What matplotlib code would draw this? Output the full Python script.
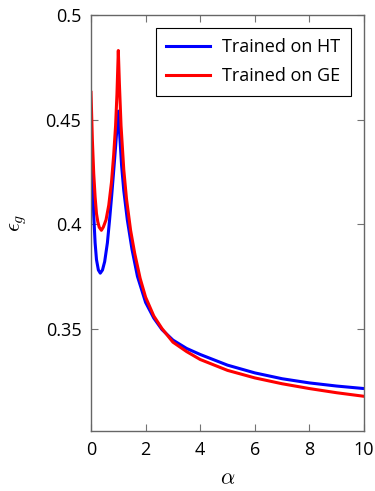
import matplotlib
matplotlib.use('Agg')
import matplotlib.pyplot as plt

# valeurs
alpha_ht = [0, 0.05, 0.1, 0.15, 0.2, 0.27, 0.34, 0.42, 0.5, 0.6, 0.68, 0.76, 0.84, 0.9,
            0.95, 1.0, 1.05, 1.12, 1.2, 1.33, 1.5, 1.7, 2.0, 2.3, 2.6, 3.0, 3.5, 4.0,
            5.0, 6.0, 7.0, 8.0, 9.0, 10.0]
eps_ht = [0.449, 0.424, 0.404, 0.391, 0.383, 0.378, 0.3765, 0.378, 0.382, 0.391, 0.402,
          0.414, 0.427, 0.437, 0.446, 0.454, 0.443, 0.428, 0.416, 0.402, 0.388, 0.375,
          0.3625, 0.355, 0.3495, 0.3445, 0.3405, 0.3376, 0.3325, 0.3288, 0.326, 0.324,
          0.3225, 0.3213]

alpha_ge = [0, 0.05, 0.1, 0.15, 0.2, 0.25, 0.3, 0.38, 0.45, 0.55, 0.65, 0.75, 0.83, 0.9,
            0.95, 1.0, 1.04, 1.1, 1.2, 1.3, 1.45, 1.6, 1.8, 2.0, 2.3, 2.6, 3.0, 3.5, 4.0,
            5.0, 6.0, 7.0, 8.0, 9.0, 10.0]
eps_ge = [0.463, 0.44, 0.424, 0.413, 0.405, 0.401, 0.3985, 0.397, 0.3985, 0.402, 0.409,
          0.42, 0.433, 0.447, 0.462, 0.483, 0.467, 0.447, 0.426, 0.412, 0.397, 0.386,
          0.374, 0.365, 0.356, 0.35, 0.3435, 0.339, 0.3352, 0.33, 0.3264, 0.3236,
          0.3213, 0.3193, 0.3176]

plt.rcParams['font.family'] = ['Open Sans', 'DejaVu Sans']
plt.rcParams['mathtext.fontset'] = 'cm'

fig = plt.figure(figsize=(3.75, 4.91), dpi=100)
ax = fig.add_axes([0.2427, 0.1222, 0.728, 0.8473])

ax.plot(alpha_ht, eps_ht, color='#0000ff', lw=2.2, label='Trained on HT')
ax.plot(alpha_ge, eps_ge, color='#ff0000', lw=2.2, label='Trained on GE')

ax.set_xlim(0, 10)
ax.set_ylim(0.301, 0.5)
ax.set_xticks([0, 2, 4, 6, 8, 10])
ax.set_yticks([0.35, 0.4, 0.45, 0.5])
ax.set_yticklabels(['0.35', '0.4', '0.45', '0.5'])
ax.tick_params(direction='in', top=True, right=True, length=5, width=0.8,
               color='0.45', labelsize=13, pad=7)
for s in ax.spines.values():
    s.set_color('0.4')
    s.set_linewidth(1.0)

ax.set_xlabel(r'$\alpha$', fontsize=16, labelpad=7)
ax.set_ylabel(r'$\epsilon_g$', fontsize=16, labelpad=12)

leg = ax.legend(loc='upper right', fontsize=13, fancybox=False, framealpha=1,
                edgecolor='black', handlelength=2.4, labelspacing=0.6,
                borderpad=0.6, handletextpad=0.7, borderaxespad=0.7)
leg.get_frame().set_linewidth(0.8)

fig.savefig('out.png', dpi=100)
